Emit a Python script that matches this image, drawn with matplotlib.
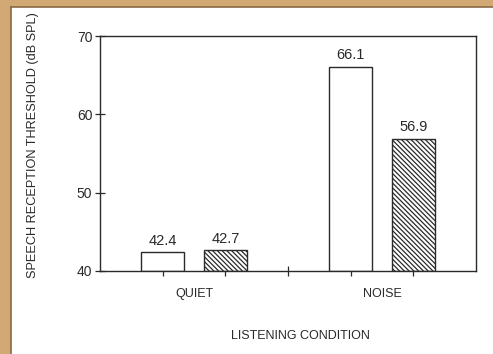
import matplotlib
matplotlib.use("Agg")
import matplotlib.pyplot as plt
from matplotlib.patches import Rectangle

# Speech reception thresholds by listening condition
conditions = ["QUIET", "NOISE"]
open_values = [42.4, 66.1]
hatched_values = [42.7, 56.9]
y_ticks = [40, 50, 60, 70]

plt.rcParams["font.family"] = ["Liberation Sans", "DejaVu Sans"]
plt.rcParams["hatch.linewidth"] = 0.9

W, H = 493, 354
fig = plt.figure(figsize=(W / 100, H / 100), dpi=100)
fig.patch.set_facecolor("white")

# tan page border along the left and top edges
tan = "#d2a874"
edge = "#8a6a44"
fig.patches.append(Rectangle((0, 0), 10.5 / W, 1, transform=fig.transFigure,
                             facecolor=tan, edgecolor="none", zorder=0))
fig.patches.append(Rectangle((0, 1 - 6.5 / H), 1, 6.5 / H, transform=fig.transFigure,
                             facecolor=tan, edgecolor="none", zorder=0))
fig.add_artist(plt.Line2D([10.5 / W, 10.5 / W], [0, 1 - 6.5 / H], transform=fig.transFigure,
                          color=edge, lw=1.2))
fig.add_artist(plt.Line2D([10.5 / W, 1], [1 - 6.5 / H, 1 - 6.5 / H], transform=fig.transFigure,
                          color=edge, lw=1.2))

left, right, top, bottom = 100, 476, 36, 271
ax = fig.add_axes([left / W, 1 - bottom / H, (right - left) / W, (bottom - top) / H])

ink = "#2a2a2a"
width = 0.68
group_centers = [1.5, 4.5]
open_x = [c - 0.5 for c in group_centers]
hatched_x = [c + 0.5 for c in group_centers]

ax.bar(open_x, [v - 40 for v in open_values], bottom=40, width=width,
       facecolor="white", edgecolor=ink, linewidth=1.0, zorder=2)
ax.bar(hatched_x, [v - 40 for v in hatched_values], bottom=40, width=width,
       facecolor="white", edgecolor=ink, linewidth=1.0, hatch="\\" * 7, zorder=2)

for x, v in zip(open_x + hatched_x, open_values + hatched_values):
    ax.annotate(f"{v:.1f}", (x, v), xytext=(0, 3), textcoords="offset points",
                ha="center", va="bottom", fontsize=10.5, color=ink)

ax.set_xlim(0, 6)
ax.set_ylim(40, 70)
ax.set_yticks(y_ticks)
ax.set_xticks([1, 2, 3, 4, 5])
ax.set_xticklabels([])
ax.tick_params(axis="both", direction="inout", length=7, width=0.9, color=ink,
               labelsize=10, labelcolor=ink)
ax.tick_params(axis="y", pad=2)
for s in ax.spines.values():
    s.set_color(ink)
    s.set_linewidth(1.0)

for c, name in zip(group_centers, conditions):
    ax.text(c, 37.8, name, ha="center", va="top", fontsize=9, color=ink)

fig.text(300 / W, 1 - 336 / H, "LISTENING CONDITION", ha="center", va="center",
         fontsize=9, color=ink)
fig.text(33 / W, 1 - 145 / H, "SPEECH RECEPTION THRESHOLD (dB SPL)", ha="center",
         va="center", rotation=90, fontsize=9.2, color=ink)

fig.savefig("out.png", dpi=100)
